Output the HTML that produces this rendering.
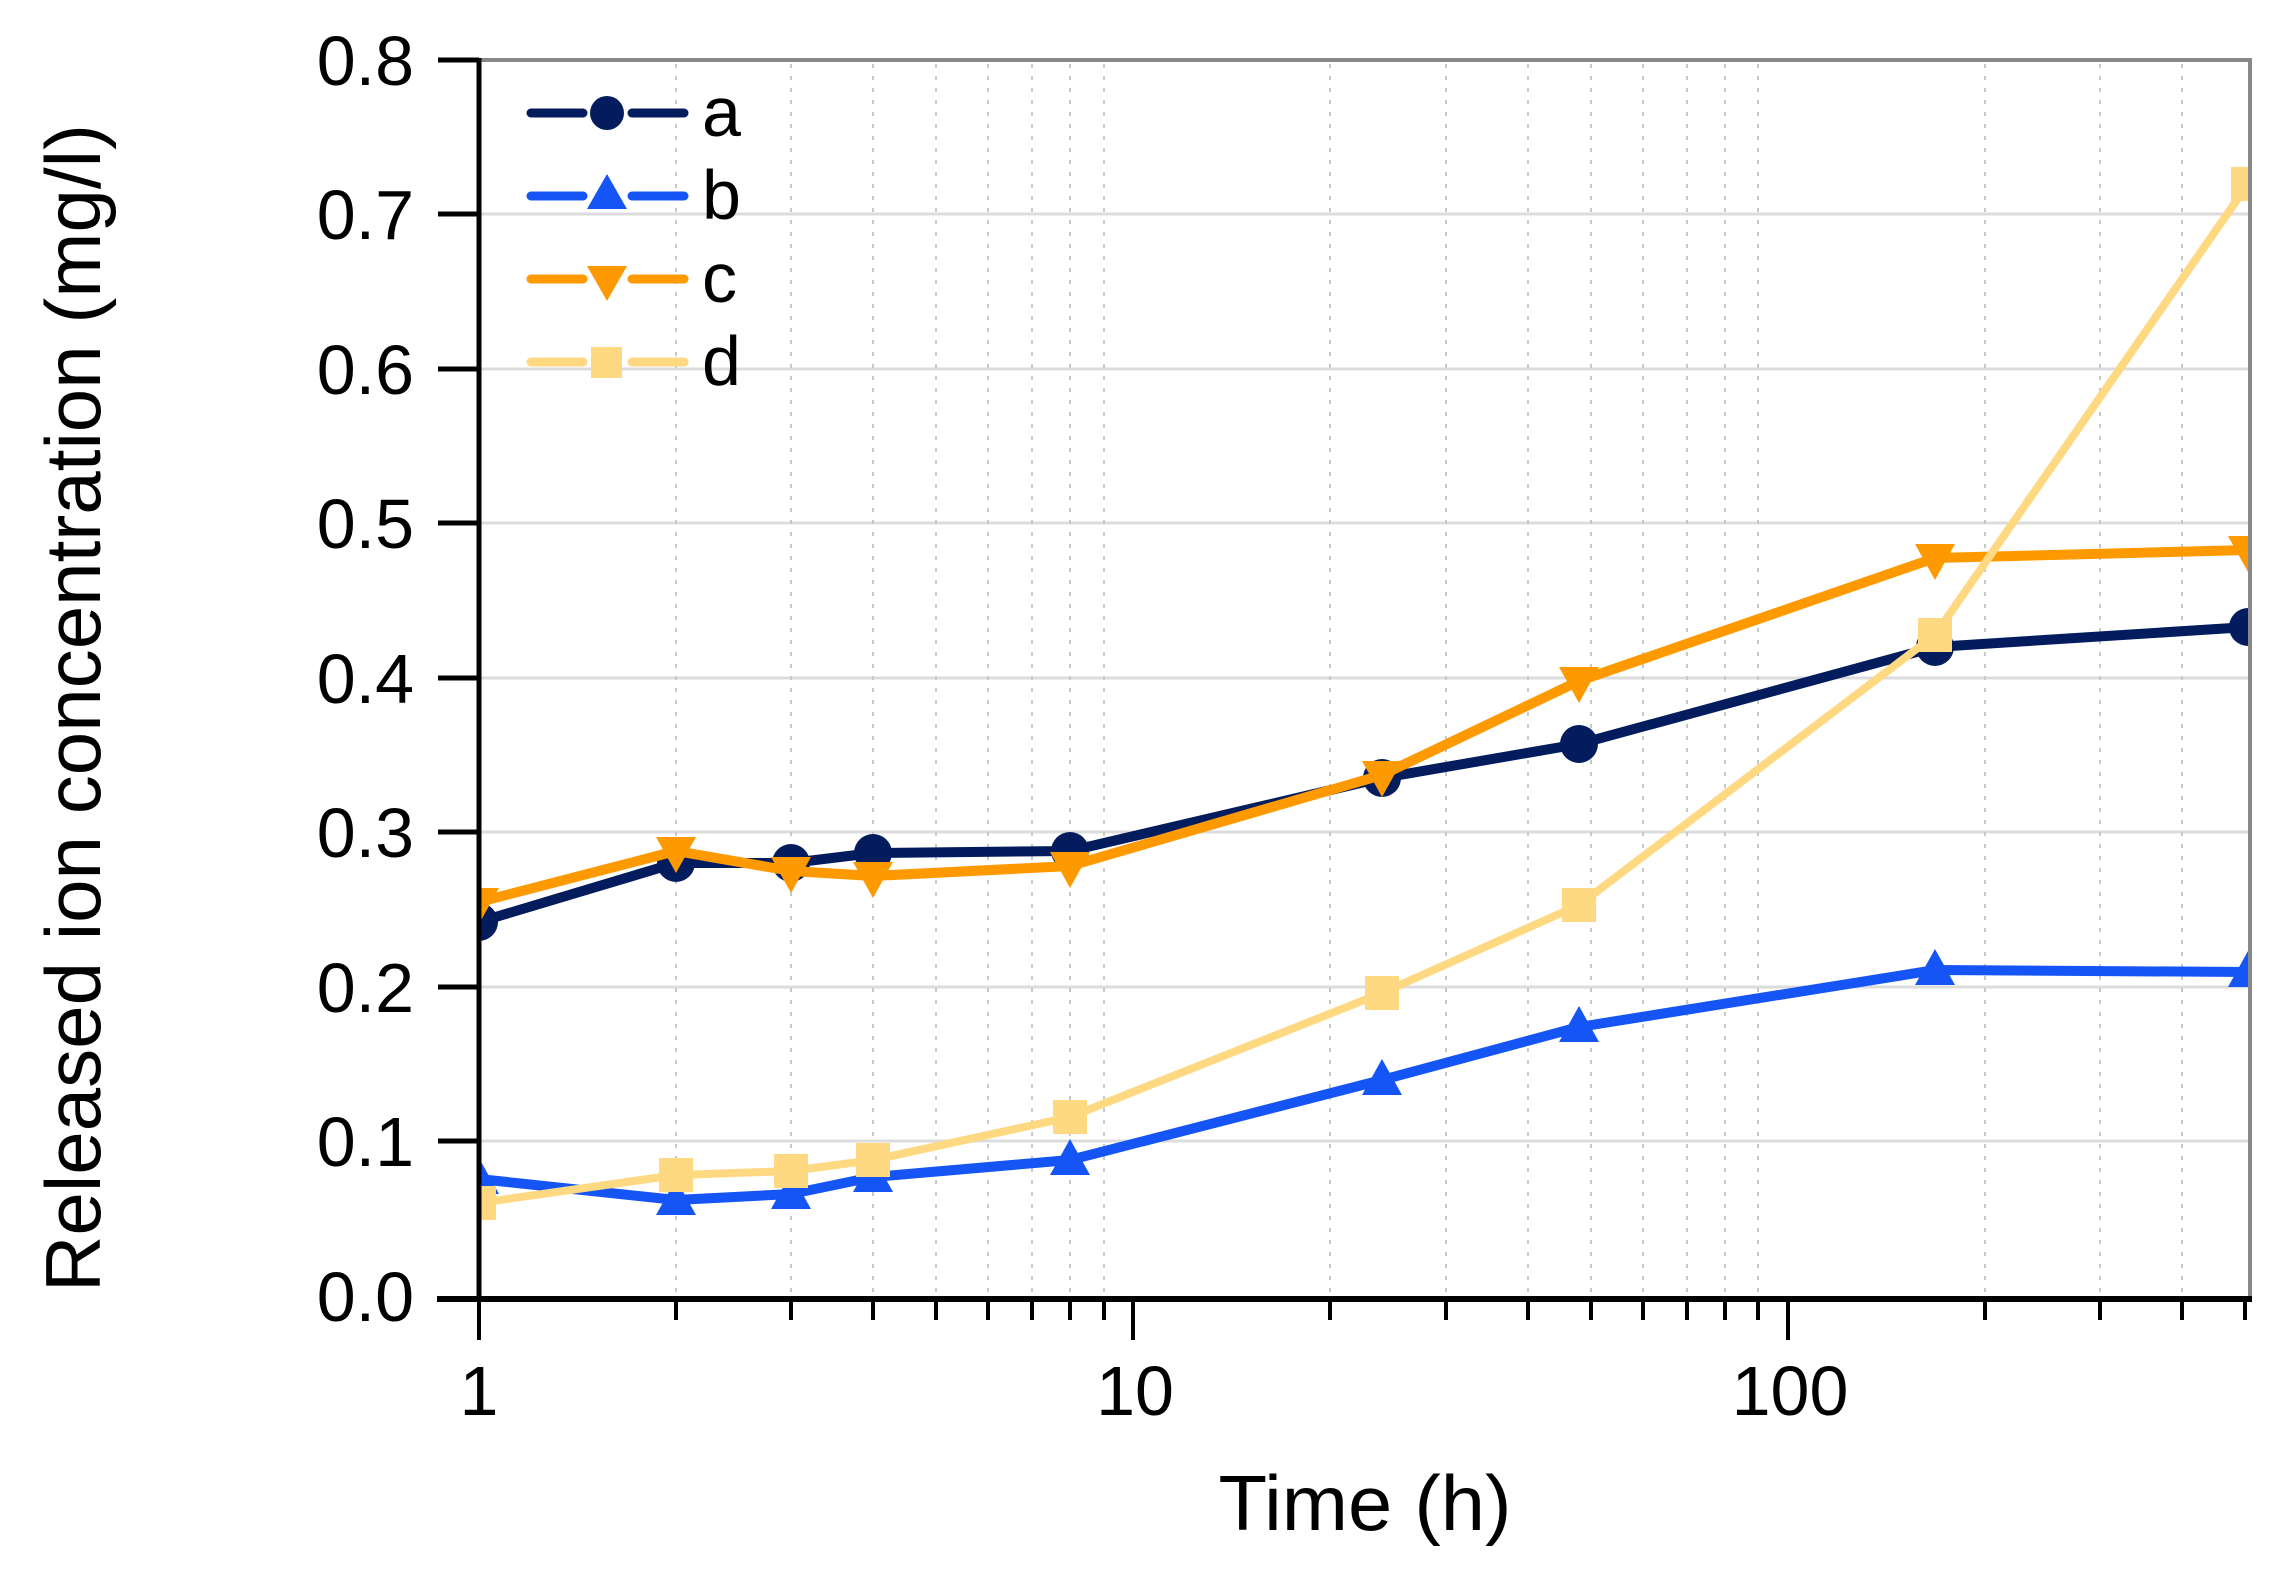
<!DOCTYPE html>
<html><head><meta charset="utf-8"><style>
html,body{margin:0;padding:0;background:#fff;}
svg{display:block;}
text{font-family:"Liberation Sans",Arial,sans-serif;fill:#000;}
</style></head><body>
<svg width="2293" height="1576" viewBox="0 0 2293 1576" xmlns="http://www.w3.org/2000/svg">
<defs><clipPath id="c"><rect x="479" y="60" width="1771" height="1240"/></clipPath></defs>
<g stroke="#dcdcdc" stroke-width="3">
<line x1="479" y1="214" x2="2250" y2="214"/><line x1="479" y1="369" x2="2250" y2="369"/>
<line x1="479" y1="523" x2="2250" y2="523"/><line x1="479" y1="678" x2="2250" y2="678"/>
<line x1="479" y1="832" x2="2250" y2="832"/><line x1="479" y1="987" x2="2250" y2="987"/>
<line x1="479" y1="1141" x2="2250" y2="1141"/>
</g>
<g stroke="#c8c8c8" stroke-width="2" stroke-dasharray="4 8">
<line x1="676" y1="64" x2="676" y2="1296"/><line x1="791" y1="64" x2="791" y2="1296"/>
<line x1="873" y1="64" x2="873" y2="1296"/><line x1="936" y1="64" x2="936" y2="1296"/>
<line x1="988" y1="64" x2="988" y2="1296"/><line x1="1032" y1="64" x2="1032" y2="1296"/>
<line x1="1070" y1="64" x2="1070" y2="1296"/><line x1="1104" y1="64" x2="1104" y2="1296"/>
<line x1="1330" y1="64" x2="1330" y2="1296"/><line x1="1446" y1="64" x2="1446" y2="1296"/>
<line x1="1528" y1="64" x2="1528" y2="1296"/><line x1="1591" y1="64" x2="1591" y2="1296"/>
<line x1="1643" y1="64" x2="1643" y2="1296"/><line x1="1687" y1="64" x2="1687" y2="1296"/>
<line x1="1725" y1="64" x2="1725" y2="1296"/><line x1="1758" y1="64" x2="1758" y2="1296"/>
<line x1="1985" y1="64" x2="1985" y2="1296"/><line x1="2100" y1="64" x2="2100" y2="1296"/>
<line x1="2182" y1="64" x2="2182" y2="1296"/>
</g>
<g clip-path="url(#c)" stroke-linejoin="round" stroke-linecap="round">
<polyline fill="none" stroke="#031c5e" stroke-width="10" points="479,922 676,863 791,863 873,853 1070,851 1382,778 1579,744 1935,647 2248,627"/>
<g fill="#031c5e">
<circle cx="479" cy="922" r="19"/><circle cx="676" cy="863" r="19"/><circle cx="791" cy="863" r="19"/><circle cx="873" cy="853" r="19"/><circle cx="1070" cy="851" r="19"/><circle cx="1382" cy="778" r="19"/><circle cx="1579" cy="744" r="19"/><circle cx="1935" cy="647" r="19"/><circle cx="2248" cy="627" r="19"/>
</g>
<polyline fill="none" stroke="#1554f5" stroke-width="10" points="479,1179 676,1200 791,1194 873,1177 1070,1160 1382,1080 1579,1027 1935,970 2248,972"/>
<g fill="#1554f5">
<path d="M479,1158 l20,36 h-40z"/><path d="M676,1179 l20,36 h-40z"/><path d="M791,1173 l20,36 h-40z"/><path d="M873,1156 l20,36 h-40z"/><path d="M1070,1139 l20,36 h-40z"/><path d="M1382,1059 l20,36 h-40z"/><path d="M1579,1006 l20,36 h-40z"/><path d="M1935,949 l20,36 h-40z"/><path d="M2248,951 l20,36 h-40z"/>
</g>
<polyline fill="none" stroke="#ff9900" stroke-width="10" points="479,902 676,851 791,871 873,876 1070,866 1382,775 1579,681 1935,558 2248,550"/>
<g fill="#ff9900">
<path d="M479,924 l20,-36 h-40z"/><path d="M676,873 l20,-36 h-40z"/><path d="M791,893 l20,-36 h-40z"/><path d="M873,898 l20,-36 h-40z"/><path d="M1070,888 l20,-36 h-40z"/><path d="M1382,797 l20,-36 h-40z"/><path d="M1579,703 l20,-36 h-40z"/><path d="M1935,580 l20,-36 h-40z"/><path d="M2248,572 l20,-36 h-40z"/>
</g>
<polyline fill="none" stroke="#ffd882" stroke-width="8" points="479,1203 676,1175 791,1171 873,1160 1070,1117 1382,993 1579,905 1935,635 2248,184"/>
<g fill="#ffd882">
<rect x="462" y="1186" width="34" height="34"/><rect x="659" y="1158" width="34" height="34"/><rect x="774" y="1154" width="34" height="34"/><rect x="856" y="1143" width="34" height="34"/><rect x="1053" y="1100" width="34" height="34"/><rect x="1365" y="976" width="34" height="34"/><rect x="1562" y="888" width="34" height="34"/><rect x="1918" y="618" width="34" height="34"/><rect x="2231" y="167" width="34" height="34"/>
</g>
</g>
<line x1="479" y1="60" x2="2252" y2="60" stroke="#888" stroke-width="4"/>
<line x1="2250" y1="60" x2="2250" y2="1299" stroke="#888" stroke-width="4"/>
<line x1="479" y1="58" x2="479" y2="1299" stroke="#000" stroke-width="5"/>
<line x1="437" y1="1299" x2="2252" y2="1299" stroke="#000" stroke-width="6"/>
<g stroke="#000" stroke-width="5">
<line x1="438" y1="60" x2="479" y2="60"/><line x1="438" y1="214" x2="479" y2="214"/><line x1="438" y1="369" x2="479" y2="369"/><line x1="438" y1="523" x2="479" y2="523"/><line x1="438" y1="678" x2="479" y2="678"/><line x1="438" y1="832" x2="479" y2="832"/><line x1="438" y1="987" x2="479" y2="987"/><line x1="438" y1="1141" x2="479" y2="1141"/>
</g>
<g stroke="#000" stroke-width="4">
<line x1="479" y1="1299" x2="479" y2="1340"/><line x1="1133" y1="1299" x2="1133" y2="1340"/><line x1="1788" y1="1299" x2="1788" y2="1340"/>
<line x1="676" y1="1299" x2="676" y2="1320"/><line x1="791" y1="1299" x2="791" y2="1320"/><line x1="873" y1="1299" x2="873" y2="1320"/><line x1="936" y1="1299" x2="936" y2="1320"/><line x1="988" y1="1299" x2="988" y2="1320"/><line x1="1032" y1="1299" x2="1032" y2="1320"/><line x1="1070" y1="1299" x2="1070" y2="1320"/><line x1="1104" y1="1299" x2="1104" y2="1320"/>
<line x1="1330" y1="1299" x2="1330" y2="1320"/><line x1="1446" y1="1299" x2="1446" y2="1320"/><line x1="1528" y1="1299" x2="1528" y2="1320"/><line x1="1591" y1="1299" x2="1591" y2="1320"/><line x1="1643" y1="1299" x2="1643" y2="1320"/><line x1="1687" y1="1299" x2="1687" y2="1320"/><line x1="1725" y1="1299" x2="1725" y2="1320"/><line x1="1758" y1="1299" x2="1758" y2="1320"/>
<line x1="1985" y1="1299" x2="1985" y2="1320"/><line x1="2100" y1="1299" x2="2100" y2="1320"/><line x1="2182" y1="1299" x2="2182" y2="1320"/><line x1="2245" y1="1299" x2="2245" y2="1320"/>
</g>
<g font-size="70" text-anchor="end">
<text x="414" y="85">0.8</text><text x="414" y="239">0.7</text><text x="414" y="394">0.6</text><text x="414" y="548">0.5</text><text x="414" y="703">0.4</text><text x="414" y="857">0.3</text><text x="414" y="1012">0.2</text><text x="414" y="1166">0.1</text><text x="414" y="1321">0.0</text>
</g>
<g font-size="70" text-anchor="middle">
<text x="479" y="1415">1</text><text x="1135" y="1415">10</text><text x="1790" y="1415">100</text>
</g>
<text x="1365" y="1530" font-size="78" text-anchor="middle" textLength="293" lengthAdjust="spacingAndGlyphs">Time (h)</text>
<text transform="translate(100,708) rotate(-90)" font-size="78" text-anchor="middle" textLength="1168" lengthAdjust="spacingAndGlyphs">Released ion concentration (mg/l)</text>
<g stroke-width="9" stroke-linecap="round">
<line x1="531" y1="113" x2="583" y2="113" stroke="#031c5e"/><line x1="632" y1="113" x2="684" y2="113" stroke="#031c5e"/>
<line x1="531" y1="196" x2="583" y2="196" stroke="#1554f5"/><line x1="632" y1="196" x2="684" y2="196" stroke="#1554f5"/>
<line x1="531" y1="279" x2="583" y2="279" stroke="#ff9900"/><line x1="632" y1="279" x2="684" y2="279" stroke="#ff9900"/>
<line x1="531" y1="362" x2="583" y2="362" stroke="#ffd882"/><line x1="632" y1="362" x2="684" y2="362" stroke="#ffd882"/>
</g>
<circle cx="607" cy="113" r="17" fill="#031c5e"/>
<path d="M607,174 l20,35 h-40z" fill="#1554f5"/>
<path d="M607,301 l20,-35 h-40z" fill="#ff9900"/>
<rect x="591" y="347" width="31" height="31" fill="#ffd882"/>
<g font-size="70">
<text x="702" y="136">a</text><text x="702" y="219">b</text><text x="702" y="302">c</text><text x="702" y="385">d</text>
</g>
</svg>
</body></html>
